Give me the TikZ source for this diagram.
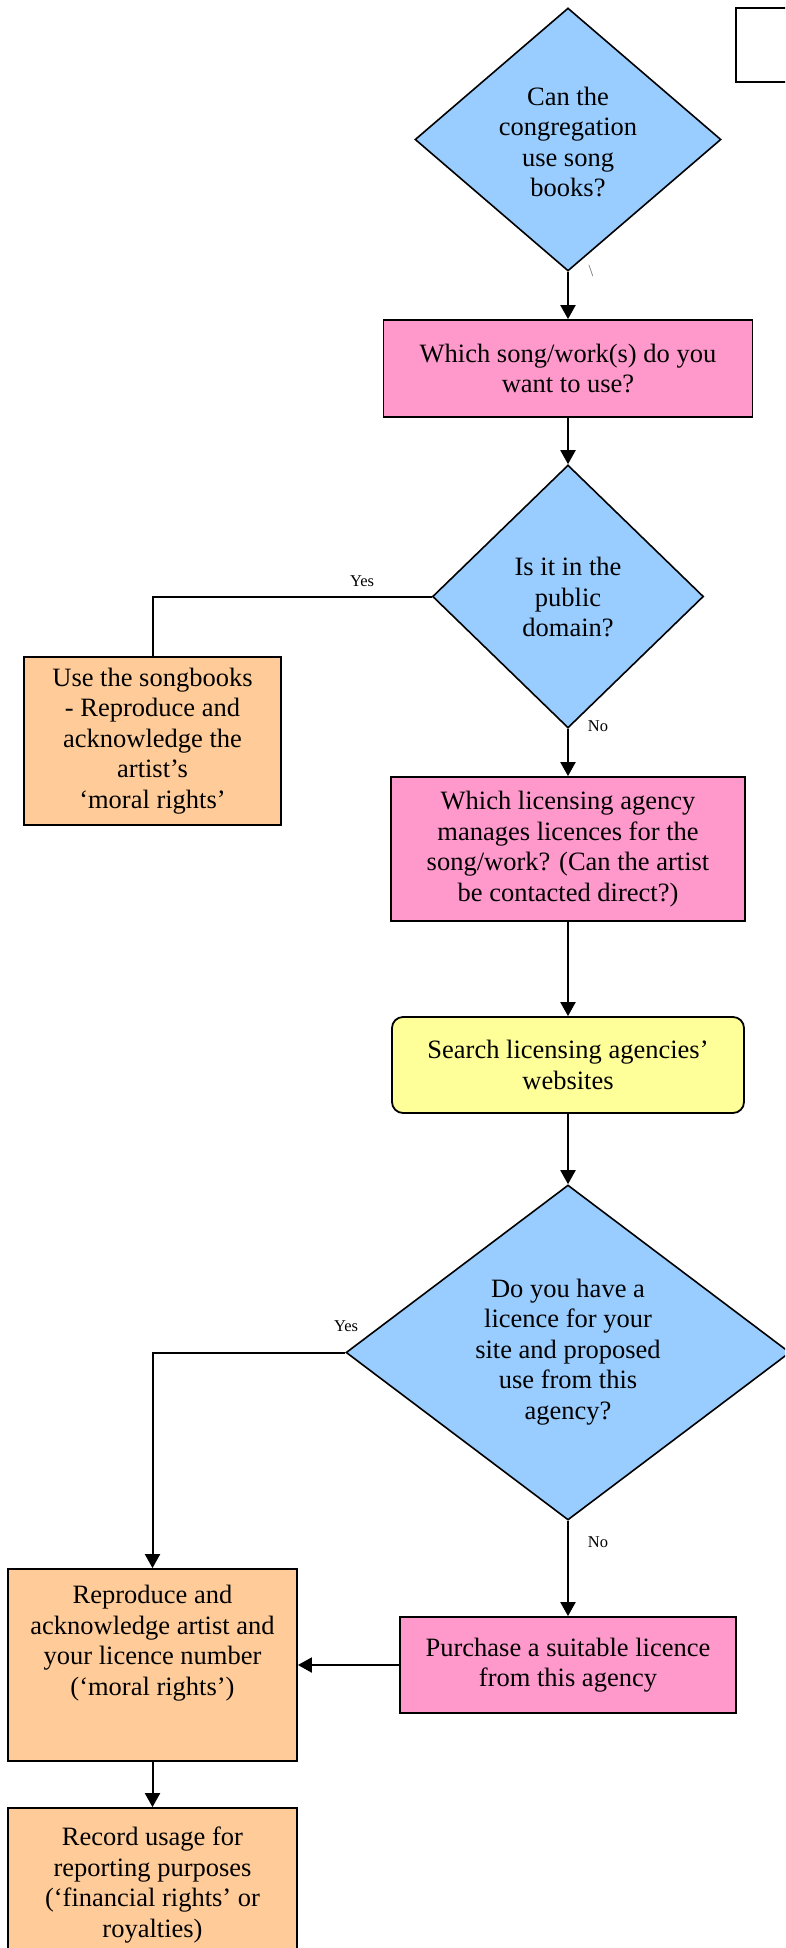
\documentclass[tikz,border=0pt]{standalone}
\usepackage{fontspec}
\setmainfont{Liberation Serif}
\usetikzlibrary{shapes.geometric,arrows.meta}
\definecolor{dblue}{HTML}{99CCFF}
\definecolor{bpink}{HTML}{FF99CC}
\definecolor{borange}{HTML}{FFCC99}
\definecolor{byellow}{HTML}{FFFF99}
\tikzset{
  bigtxt/.style={font={\fontsize{26.5}{30.5}\selectfont}},
  smalltxt/.style={font={\fontsize{16.5}{19}\selectfont}, inner sep=0pt},
  shapebox/.style={draw, line width=1.8pt, rectangle, inner sep=0pt, align=center, bigtxt},
  decision/.style={draw, line width=1.6pt, diamond, fill=dblue, inner sep=0pt},
  dtext/.style={align=center, inner sep=0pt, bigtxt},
  flow/.style={line width=2pt, -{Triangle[width=15pt,length=14pt]}},
  plainflow/.style={line width=2pt},
}
\begin{document}
\begin{tikzpicture}[x=1pt,y=-1pt]
\useasboundingbox (0,0) rectangle (785,1948);
\clip (0,0) rectangle (785,1948);

% top-right empty box
\node[draw, line width=2pt, minimum width=64pt, minimum height=74pt, inner sep=0pt] (tr) at (768,45) {};

% decision 1
\node[decision, minimum width=306pt, minimum height=263pt] (d1) at (568,139.5) {};
\node[dtext] (d1t) at (568,142) {Can the\\congregation\\use song\\books?};
\node[text=black!55, font={\fontsize{17}{19}\selectfont}, inner sep=0pt] (bs) at (591,271) {\textbackslash};

% box 2
\node[shapebox, fill=bpink, minimum width=369pt, minimum height=97pt] (b2) at (568,368.5) {Which song/work(s) do you\\want to use?};

% decision 2
\node[decision, minimum width=271pt, minimum height=263pt] (d2) at (568,596.5) {};
\node[dtext] (d2t) at (568,597) {Is it in the\\public\\domain?};

% use songbooks
\node[shapebox, fill=borange, minimum width=257pt, minimum height=168pt] (b3) at (152.5,741) {Use the songbooks\\- Reproduce and\\acknowledge the\\artist’s\\‘moral rights’};

% which licensing agency
\node[shapebox, fill=bpink, minimum width=354pt, minimum height=144pt] (b4) at (568,849) {Which licensing agency\\manages licences for the\\song/work? (Can the artist\\be contacted direct?)};

% search
\node[shapebox, fill=byellow, rounded corners=11pt, minimum width=352pt, minimum height=96pt] (b5) at (568,1065) {Search licensing agencies’\\websites};

% decision 3
\node[decision, minimum width=444pt, minimum height=335pt] (d3) at (568,1352.5) {};
\node[dtext] (d3t) at (568,1352) {Do you have a\\licence for your\\site and proposed\\use from this\\agency?};

% purchase
\node[shapebox, fill=bpink, minimum width=336pt, minimum height=96pt] (b6) at (568,1665) {Purchase a suitable licence\\from this agency};

% reproduce
\node[shapebox, fill=borange, minimum width=289pt, minimum height=192pt] (b7) at (152.5,1665) {};
\node[dtext, anchor=north] (b7t) at (152.5,1585) {Reproduce and\\acknowledge artist and\\your licence number\\(‘moral rights’)};

% record
\node[shapebox, fill=borange, minimum width=289pt, minimum height=200pt] (b8) at (152.5,1908) {};
\node[dtext, anchor=north] (b8t) at (152.5,1827) {Record usage for\\reporting purposes\\(‘financial rights’ or\\royalties)};

% connectors
\draw[flow] (d1.south) -- (b2.north);
\draw[flow] (b2.south) -- (d2.north);
\draw[plainflow] (d2.west) -| (b3.north);
\node[smalltxt] (y1) at (362,581) {Yes};
\draw[flow] (d2.south) -- (b4.north);
\node[smalltxt] (n1) at (598,726) {No};
\draw[flow] (b4.south) -- (b5.north);
\draw[flow] (b5.south) -- (d3.north);
\draw[flow] (d3.west) -| (b7.north);
\node[smalltxt] (y2) at (346,1326) {Yes};
\draw[flow] (d3.south) -- (b6.north);
\node[smalltxt] (n2) at (598,1542) {No};
\draw[flow] (b6.west) -- (b7.east);
\draw[flow] (b7.south) -- (b8.north);
\end{tikzpicture}
\end{document}
